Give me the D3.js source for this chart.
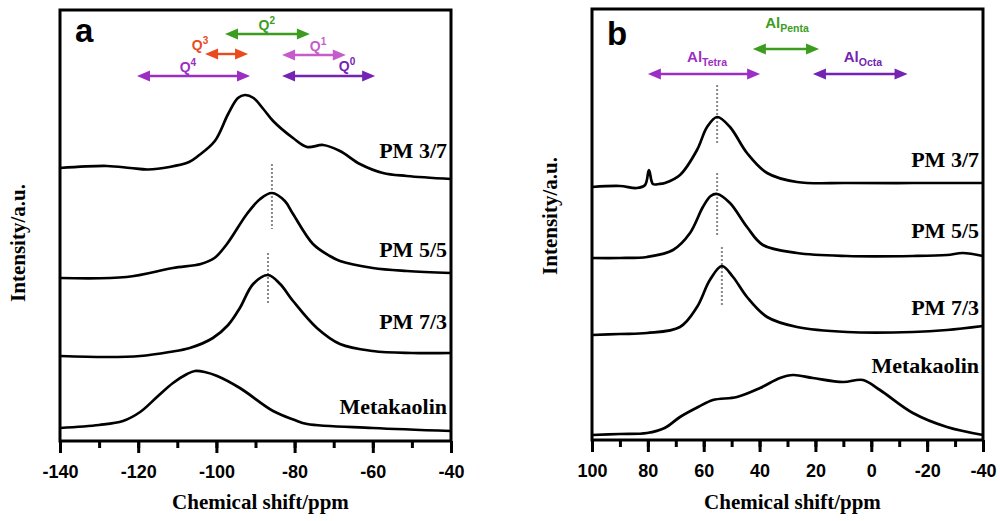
<!DOCTYPE html>
<html>
<head>
<meta charset="utf-8">
<script src="https://cdn.jsdelivr.net/npm/d3@7"></script>
<style>
body { margin: 0; background: #fff; }
</style>
</head>
<body>
<div class="chart"></div>
<script>
// ---- 29Si spectra (panel a) : [ppm, intensity a.u.] ----
var siPM37 = [[-140, 27.3], [-128, 27.5], [-122, 27.3], [-117.5, 27.15], [-112, 27.4], [-107, 27.9], [-104.7, 28.5],
    [-100.4, 30.0], [-97, 32.7], [-94.5, 34.3], [-92.7, 34.6], [-90.5, 34.3], [-88, 33.2], [-85.5, 32.0],
    [-80.4, 30.3], [-76.8, 29.4], [-72.7, 29.6], [-68.4, 29.0], [-63.3, 27.7], [-57.4, 26.8], [-51.3, 26.5],
    [-40, 26.2]];
var siPM55 = [[-140, 16.3], [-123, 16.4], [-111.1, 17.3], [-104, 17.7], [-100.5, 18.3], [-97.3, 19.7],
    [-92.2, 22.7], [-88.8, 24.2], [-85.8, 24.8], [-82.5, 24.0], [-80.4, 22.7], [-75.3, 19.7], [-71, 18.5],
    [-68.4, 18.0], [-60, 17.3], [-51.3, 17.0], [-40, 16.8]];
var siPM73 = [[-140, 8.5], [-128, 8.4], [-119.5, 8.5], [-112, 8.9], [-106.8, 9.3], [-100.9, 10.3], [-97, 11.6],
    [-94, 13.3], [-90.6, 15.7], [-86.8, 16.6], [-83.7, 15.7], [-80.4, 14.0], [-74.3, 11.3], [-68.4, 9.7],
    [-60, 9.0], [-50, 8.8], [-40, 8.8]];
var siMK = [[-140, 1.3], [-130, 1.6], [-123.9, 2.0], [-119.5, 2.9], [-115.2, 4.4], [-111.1, 5.8], [-107.5, 6.7],
    [-105.5, 7.0], [-103, 6.9], [-99.8, 6.5], [-94, 5.3], [-85.5, 3.0], [-80, 2.1], [-76.8, 1.7], [-60, 1.3],
    [-40, 1.0]];

// ---- 27Al spectra (panel b) ----
var alPM37 = [[100, 25.3], [90, 25.4], [84, 25.2], [81, 25.5], [79.6, 27.0], [78.2, 25.6], [76, 25.6], [73.9, 25.7],
    [68.5, 26.5], [62.4, 29.0], [58.8, 31.3], [55.2, 32.3], [50.6, 31.3], [44.5, 28.7], [37.3, 26.7],
    [26.6, 25.8], [8.7, 25.7], [-14.9, 25.7], [-40, 25.7]];
var alPM55 = [[100, 18.2], [90, 18.2], [80.3, 18.3], [71, 19.0], [64.9, 20.7], [60.3, 23.3], [57.5, 24.4], [55.2, 24.6],
    [50.6, 23.7], [44.5, 21.3], [38.8, 19.5], [26.6, 18.7], [8.7, 18.4], [-14.9, 18.4], [-27.1, 18.5],
    [-32.8, 18.7], [-40, 18.4]];
var alPM73 = [[100, 10.5], [90, 10.6], [80.3, 10.7], [68.5, 11.3], [62.4, 13.3], [57.8, 16.0], [53.5, 17.4],
    [49.5, 16.3], [44.5, 14.3], [37.3, 12.3], [26.6, 11.3], [8.7, 10.8], [-14.9, 10.8], [-27.1, 11.0],
    [-40, 11.4]];
var alMK = [[100, 0.5], [90, 0.6], [80.3, 0.7], [74, 1.2], [68.5, 2.3], [62, 3.3], [56.7, 4.0], [48.1, 4.3],
    [39.8, 5.2], [32.7, 6.2], [28, 6.5], [20.9, 6.2], [10.1, 5.8], [3, 6.0], [-3.1, 5.0], [-14.9, 2.7],
    [-27.1, 1.3], [-40, 0.5]];

var sampleNames = ["PM 3/7", "PM 5/5", "PM 7/3", "Metakaolin"];
var siLabelLevel = [28.3, 18.4, 11.2, 2.7];
var alLabelLevel = [27.3, 20.2, 12.5, 6.7];

// peak markers [ppm, from, to]
var siPeakMarks = [[-85.8, 27.7, 21.2], [-86.8, 18.8, 13.7]];
var alPeakMarks = [[55.2, 35.5, 29.5], [55.2, 26.7, 20.5], [53.5, 19.3, 13.3]];

// Qn ranges
var siBandName = ["Q", "Q", "Q", "Q", "Q"];
var siBandSup = ["4", "3", "2", "1", "0"];
var siBandFrom = [-120.3, -102.9, -97.8, -83.2, -83.2];
var siBandTo = [-91.4, -91.9, -76.1, -66.9, -59.4];
var siBandLevel = [36.5, 38.7, 40.7, 38.6, 36.5];
var siBandLabelAt = [-107.3, -104.2, -87.1, -74.0, -66.6];
var siBandLabelLevel = [36.9, 39.1, 41.1, 39.0, 37.0];
var siBandColor = ["#9c2fc2", "#ea4a1e", "#3c9c1e", "#c65ccb", "#7423b3"];

// Al coordination ranges
var alBandName = ["Al", "Al", "Al"];
var alBandSub = ["Tetra", "Penta", "Octa"];
var alBandFrom = [80, 42.4, 20.9];
var alBandTo = [39.8, 18.7, -13];
var alBandLevel = [36.6, 39.1, 36.6];
var alBandLabelAt = [58.8, 30.2, 3.0];
var alBandLabelLevel = [37.8, 41.2, 37.8];
var alBandColor = ["#9c2fc2", "#3c9c1e", "#7423b3"];

var siTicks = [-140, -120, -100, -80, -60, -40];
var alTicks = [100, 80, 60, 40, 20, 0, -20, -40];

var svg = d3.select(".chart").append("svg")
    .attr("width", 1000)
    .attr("height", 521)
    .style("font-family", "'Liberation Sans', Arial, sans-serif");

svg.append("rect").attr("width", 1000).attr("height", 521).attr("fill", "#fff");

drawPanel({
    letter: "a", left: 60, right: 451, top: 10, bottom: 441,
    domain: [-140, -40], ticks: siTicks,
    spectra: [siPM37, siPM55, siPM73, siMK], labelLevel: siLabelLevel, marks: siPeakMarks,
    band: {name: siBandName, extra: siBandSup, kind: "super", from: siBandFrom, to: siBandTo, level: siBandLevel,
        labelAt: siBandLabelAt, labelLevel: siBandLabelLevel, color: siBandColor, size: 14, small: 10},
    ylabelX: 25, letterX: 75, letterY: 42
});

drawPanel({
    letter: "b", left: 592, right: 983, top: 9, bottom: 440,
    domain: [100, -40], ticks: alTicks,
    spectra: [alPM37, alPM55, alPM73, alMK], labelLevel: alLabelLevel, marks: alPeakMarks,
    band: {name: alBandName, extra: alBandSub, kind: "sub", from: alBandFrom, to: alBandTo, level: alBandLevel,
        labelAt: alBandLabelAt, labelLevel: alBandLabelLevel, color: alBandColor, size: 15, small: 10.5},
    ylabelX: 557, letterX: 607, letterY: 45
});

function drawPanel(cfg) {

    var xScale = d3.scaleLinear()
        .domain(cfg.domain)
        .range([cfg.left, cfg.right]);

    var yScale = d3.scaleLinear()
        .domain([0, 43.1])
        .range([cfg.bottom, cfg.bottom - 431]);

    var g = svg.append("g");

    // minor ticks every 10
    var minor = d3.range(Math.min.apply(null, cfg.domain), Math.max.apply(null, cfg.domain) + 1, 10);
    g.append("g")
        .attr("transform", "translate(0," + cfg.bottom + ")")
        .call(d3.axisBottom(xScale).tickValues(minor).tickSize(7).tickFormat(""))
        .call(function (a) {
            a.select(".domain").remove();
            a.selectAll("line").attr("stroke", "#000").attr("stroke-width", 3);
        });

    // major ticks
    g.append("g")
        .attr("transform", "translate(0," + cfg.bottom + ")")
        .call(d3.axisBottom(xScale).tickValues(cfg.ticks).tickSize(12).tickPadding(12)
            .tickFormat(function (d) { return String(d); }))
        .call(function (a) {
            a.select(".domain").remove();
            a.selectAll("line").attr("stroke", "#000").attr("stroke-width", 3);
            a.selectAll("text")
                .attr("fill", "#000")
                .style("font-family", "'Liberation Sans', Arial, sans-serif")
                .style("font-weight", "bold")
                .style("font-size", "18px");
        });

    // frame
    g.append("rect")
        .attr("x", cfg.left)
        .attr("y", cfg.top)
        .attr("width", cfg.right - cfg.left)
        .attr("height", cfg.bottom - cfg.top)
        .attr("fill", "none")
        .attr("stroke", "#000")
        .attr("stroke-width", 3);

    var valueline = d3.line()
        .x(function (d) { return xScale(d[0]); })
        .y(function (d) { return yScale(d[1]); })
        .curve(d3.curveCatmullRom.alpha(0.5));

    // peak position markers
    g.selectAll(".mark")
        .data(cfg.marks)
        .enter().append("line")
        .attr("class", "mark")
        .attr("x1", function (d) { return xScale(d[0]); })
        .attr("x2", function (d) { return xScale(d[0]); })
        .attr("y1", function (d) { return yScale(d[1]); })
        .attr("y2", function (d) { return yScale(d[2]); })
        .attr("stroke", "#888")
        .attr("stroke-width", 2)
        .attr("stroke-dasharray", "2,2");

    // spectra
    g.selectAll(".spec")
        .data(cfg.spectra)
        .enter().append("path")
        .attr("class", "spec")
        .attr("d", valueline)
        .attr("fill", "none")
        .attr("stroke", "#000")
        .attr("stroke-width", 2.7)
        .attr("stroke-linejoin", "round");

    // sample names
    g.selectAll(".name")
        .data(sampleNames)
        .enter().append("text")
        .attr("class", "name")
        .attr("x", cfg.right - 4)
        .attr("y", function (d, i) { return yScale(cfg.labelLevel[i]); })
        .attr("text-anchor", "end")
        .style("font-family", "'Liberation Serif', 'Times New Roman', serif")
        .style("font-weight", "bold")
        .style("font-size", "22px")
        .text(function (d) { return d; });

    // range arrows
    var b = cfg.band;
    b.name.forEach(function (n, i) {
        var x1 = Math.min(xScale(b.from[i]), xScale(b.to[i])),
            x2 = Math.max(xScale(b.from[i]), xScale(b.to[i])),
            yy = yScale(b.level[i]),
            hl = 13, hw = 5.5;
        g.append("line")
            .attr("x1", x1 + hl - 1).attr("x2", x2 - hl + 1)
            .attr("y1", yy).attr("y2", yy)
            .attr("stroke", b.color[i])
            .attr("stroke-width", 2.4);
        g.append("path")
            .attr("d", "M" + x1 + "," + yy + "L" + (x1 + hl) + "," + (yy - hw) + "L" + (x1 + hl) + "," + (yy + hw) + "Z")
            .attr("fill", b.color[i]);
        g.append("path")
            .attr("d", "M" + x2 + "," + yy + "L" + (x2 - hl) + "," + (yy - hw) + "L" + (x2 - hl) + "," + (yy + hw) + "Z")
            .attr("fill", b.color[i]);

        var t = g.append("text")
            .attr("x", xScale(b.labelAt[i]))
            .attr("y", yScale(b.labelLevel[i]))
            .attr("text-anchor", "middle")
            .attr("fill", b.color[i])
            .style("font-weight", "bold")
            .style("font-size", b.size + "px");
        t.append("tspan").text(n);
        t.append("tspan")
            .attr("dy", b.kind === "super" ? -6 : 4)
            .style("font-size", b.small + "px")
            .text(b.extra[i]);
    });

    // panel letter
    g.append("text")
        .attr("x", cfg.letterX)
        .attr("y", cfg.letterY)
        .style("font-weight", "bold")
        .style("font-size", "33px")
        .text(cfg.letter);

    // axis titles
    g.append("text")
        .attr("x", (cfg.left + cfg.right) / 2 + 5)
        .attr("y", 509)
        .attr("text-anchor", "middle")
        .style("font-family", "'Liberation Serif', 'Times New Roman', serif")
        .style("font-weight", "bold")
        .style("font-size", "21px")
        .text("Chemical shift/ppm");

    g.append("text")
        .attr("transform", "translate(" + cfg.ylabelX + "," + (cfg.letter === "a" ? 243 : 216) + ") rotate(-90)")
        .attr("text-anchor", "middle")
        .style("font-family", "'Liberation Serif', 'Times New Roman', serif")
        .style("font-weight", "bold")
        .style("font-size", "21px")
        .text("Intensity/a.u.");
}
</script>
</body>
</html>
